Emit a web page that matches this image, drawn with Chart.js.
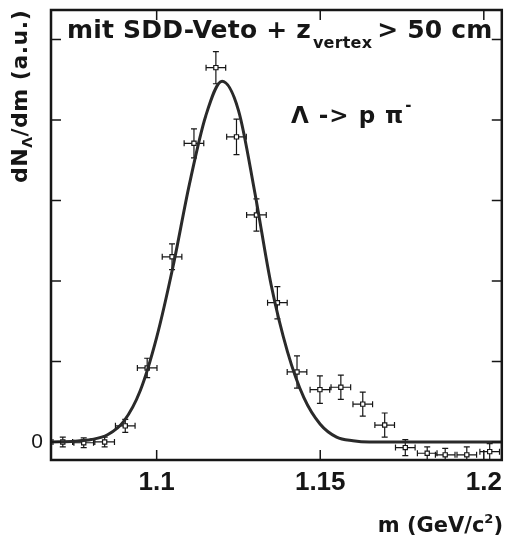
<!DOCTYPE html>
<html>
<head>
<meta charset="utf-8">
<script src="https://cdn.jsdelivr.net/npm/chart.js@4.4.0/dist/chart.umd.min.js"></script>
<style>
    html, body { margin: 0; padding: 0; background: #fff; }
</style>
</head>
<body>
<canvas id="lambdaChart" width="507" height="542"></canvas>
<script>
// Messpunkte (Masse in GeV/c^2, Ausbeute in a.u.)
const massPoints  = [1.0713, 1.0777, 1.0841, 1.0904, 1.0971, 1.1047, 1.1114, 1.1181, 1.1244, 1.1305, 1.1369,
                     1.1429, 1.1499, 1.1563, 1.1630, 1.1697, 1.1760, 1.1827, 1.1882, 1.1948, 1.2018];
const yieldPoints = [0.00, -0.01, 0.00, 0.20, 0.92, 2.30, 3.71, 4.65, 3.79, 2.82, 1.73,
                     0.87, 0.65, 0.68, 0.47, 0.21, -0.07, -0.14, -0.16, -0.16, -0.12];
const massErr     = [0.003, 0.003, 0.003, 0.003, 0.003, 0.003, 0.003, 0.003, 0.003, 0.003, 0.003,
                     0.003, 0.003, 0.003, 0.003, 0.003, 0.003, 0.003, 0.003, 0.003, 0.003];
const yieldErr    = [0.06, 0.06, 0.06, 0.08, 0.12, 0.16, 0.18, 0.20, 0.22, 0.20, 0.20,
                     0.20, 0.17, 0.15, 0.15, 0.15, 0.10, 0.08, 0.08, 0.10, 0.10];

// Fitkurve
const fitMass  = [1.0677, 1.0750, 1.0800, 1.0850, 1.0900, 1.0950, 1.1000, 1.1050, 1.1100, 1.1150, 1.1200,
                  1.1250, 1.1300, 1.1350, 1.1400, 1.1450, 1.1500, 1.1550, 1.1600, 1.1650, 1.1700, 1.2055];
const fitYield = [0.00, 0.01, 0.03, 0.09, 0.26, 0.64, 1.30, 2.18, 3.20, 4.05, 4.48,
                  4.12, 3.10, 1.95, 1.12, 0.55, 0.22, 0.06, 0.015, 0.00, 0.00, 0.00];

// Achsen
const xTicks = [1.1, 1.15, 1.2];
const yTicks = [0, 1, 2, 3, 4, 5];
const xMin = 1.0677, xMax = 1.2055;
const yMin = -0.224, yMax = 5.366;

const ink = '#161616';

// Text mit Index/Exponent nacheinander zeichnen
function drawRich(ctx, parts, x, y, spacing) {
    let cx = x;
    ctx.letterSpacing = (spacing || 0) + 'px';
    parts.forEach(p => {
        ctx.font = p.font;
        ctx.fillText(p.text, cx, y + (p.dy || 0));
        cx += ctx.measureText(p.text).width + (p.gap || 0);
    });
    ctx.letterSpacing = '0px';
    return cx - x;
}

const decorations = {
    id: 'decorations',
    beforeDatasetsDraw(chart) {
        const { ctx, chartArea: a, scales: { x, y } } = chart;
        ctx.save();
        ctx.beginPath();
        ctx.rect(a.left, a.top, a.right - a.left, a.bottom - a.top);
        ctx.clip();
        ctx.strokeStyle = ink;
        ctx.lineWidth = 1.2;
        ctx.beginPath();
        massPoints.forEach((m, i) => {
            const px = x.getPixelForValue(m);
            const py = y.getPixelForValue(yieldPoints[i]);
            const x0 = x.getPixelForValue(m - massErr[i]);
            const x1 = x.getPixelForValue(m + massErr[i]);
            const y0 = y.getPixelForValue(yieldPoints[i] + yieldErr[i]);
            const y1 = y.getPixelForValue(yieldPoints[i] - yieldErr[i]);
            ctx.moveTo(x0, py); ctx.lineTo(x1, py);
            ctx.moveTo(x0, py - 3); ctx.lineTo(x0, py + 3);
            ctx.moveTo(x1, py - 3); ctx.lineTo(x1, py + 3);
            ctx.moveTo(px, y0); ctx.lineTo(px, y1);
            ctx.moveTo(px - 3, y0); ctx.lineTo(px + 3, y0);
            ctx.moveTo(px - 3, y1); ctx.lineTo(px + 3, y1);
        });
        ctx.stroke();
        ctx.restore();
    },
    afterDraw(chart) {
        const { ctx, chartArea: a, scales: { x, y } } = chart;
        ctx.save();
        ctx.strokeStyle = ink;
        ctx.fillStyle = ink;

        // Rahmen
        ctx.lineWidth = 2.5;
        ctx.strokeRect(a.left, a.top, a.right - a.left, a.bottom - a.top);

        // Ticks nach innen
        ctx.lineWidth = 1.5;
        ctx.beginPath();
        xTicks.forEach(v => {
            const px = x.getPixelForValue(v);
            ctx.moveTo(px, a.bottom); ctx.lineTo(px, a.bottom - 10);
            ctx.moveTo(px, a.top); ctx.lineTo(px, a.top + 10);
        });
        yTicks.forEach(v => {
            const py = y.getPixelForValue(v);
            ctx.moveTo(a.left, py); ctx.lineTo(a.left + 10, py);
            ctx.moveTo(a.right, py); ctx.lineTo(a.right - 10, py);
        });
        ctx.stroke();

        ctx.textBaseline = 'alphabetic';
        ctx.textAlign = 'left';

        // Überschrift im Plot
        drawRich(ctx, [
            { text: 'mit SDD-Veto + z', font: 'bold 25px "DejaVu Sans"', gap: 2 },
            { text: 'vertex', font: 'bold 16px "DejaVu Sans"', dy: 10, gap: 5 },
            { text: '> 50 cm', font: 'bold 25px "DejaVu Sans"' }
        ], 67, 38, 0.2);

        drawRich(ctx, [
            { text: 'Λ -> p π', font: 'bold 23px "DejaVu Sans"', gap: 1 },
            { text: '-', font: 'bold 15px "DejaVu Sans"', dy: -13 }
        ], 291, 123, 1);

        // x-Achsentitel
        ctx.font = 'bold 21px "DejaVu Sans"';
        const w1 = ctx.measureText('m (GeV/c').width;
        ctx.font = 'bold 13px "DejaVu Sans"';
        const w2 = ctx.measureText('2').width;
        ctx.font = 'bold 21px "DejaVu Sans"';
        const w3 = ctx.measureText(')').width;
        drawRich(ctx, [
            { text: 'm (GeV/c', font: 'bold 21px "DejaVu Sans"' },
            { text: '2', font: 'bold 13px "DejaVu Sans"', dy: -9 },
            { text: ')', font: 'bold 21px "DejaVu Sans"' }
        ], 503 - (w1 + w2 + w3), 532);

        // y-Achsentitel (gedreht)
        ctx.translate(27, 183);
        ctx.rotate(-Math.PI / 2);
        drawRich(ctx, [
            { text: 'dN', font: 'bold 22px "DejaVu Sans"' },
            { text: 'Λ', font: 'bold 14px "DejaVu Sans"', dy: 5 },
            { text: '/dm (a.u.)', font: 'bold 22px "DejaVu Sans"' }
        ], 0, 0, 0.5);

        ctx.restore();
    }
};

new Chart(document.getElementById('lambdaChart'), {
    type: 'scatter',
    data: {
        datasets: [
            {
                type: 'line',
                label: 'Fit',
                data: fitMass.map((m, i) => ({ x: m, y: fitYield[i] })),
                borderColor: '#2a2a2a',
                borderWidth: 3,
                pointRadius: 0,
                fill: false,
                cubicInterpolationMode: 'monotone'
            },
            {
                label: 'Daten',
                data: massPoints.map((m, i) => ({ x: m, y: yieldPoints[i] })),
                pointStyle: 'rect',
                pointRadius: 3,
                backgroundColor: '#fff',
                borderColor: ink,
                borderWidth: 1.2
            }
        ]
    },
    options: {
        responsive: false,
        animation: false,
        events: [],
        layout: { padding: { top: 10, right: 2, left: 0, bottom: 0 } },
        plugins: {
            legend: { display: false },
            tooltip: { enabled: false }
        },
        scales: {
            x: {
                type: 'linear',
                min: xMin,
                max: xMax,
                afterBuildTicks: s => { s.ticks = xTicks.map(v => ({ value: v })); },
                afterFit: s => { s.height = 82; s.paddingLeft = 0; s.paddingRight = 0; },
                grid: { display: false, drawTicks: false },
                border: { display: false },
                ticks: {
                    autoSkip: false,
                    maxRotation: 0,
                    padding: 7,
                    color: ink,
                    font: { family: '"Liberation Sans"', weight: 'bold', size: 26 },
                    callback: v => String(v)
                }
            },
            y: {
                type: 'linear',
                min: yMin,
                max: yMax,
                afterBuildTicks: s => { s.ticks = yTicks.map(v => ({ value: v })); },
                afterFit: s => { s.width = 51; s.paddingTop = 0; s.paddingBottom = 0; },
                grid: { display: false, drawTicks: false },
                border: { display: false },
                ticks: {
                    autoSkip: false,
                    padding: 8,
                    color: ink,
                    font: { family: '"Liberation Sans"', size: 21 },
                    callback: v => (v === 0 ? '0' : '')
                }
            }
        }
    },
    plugins: [decorations]
});
</script>
</body>
</html>
